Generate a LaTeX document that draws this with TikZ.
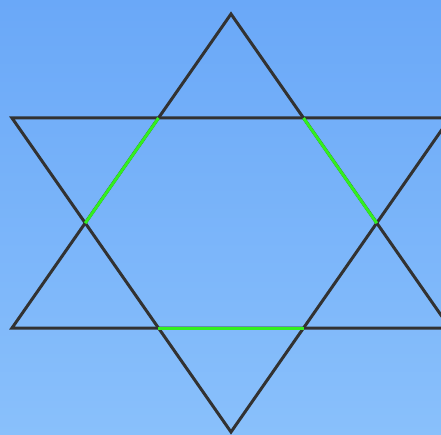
\documentclass[tikz,border=0pt]{standalone}
\usetikzlibrary{calc}
\definecolor{bgtop}{RGB}{106,168,248}
\definecolor{bgbot}{RGB}{137,192,251}
\definecolor{edge}{RGB}{50,50,50}
\definecolor{hexgreen}{RGB}{50,240,30}
\tikzset{
  edgeline/.style={draw=edge, line width=3pt, line join=miter},
  greenline/.style={draw=hexgreen, line width=3pt, line cap=butt}
}
\begin{document}
\begin{tikzpicture}[x=1pt,y=-1pt]
  \useasboundingbox (0,0) rectangle (441,435);
  \shade[top color=bgtop, bottom color=bgbot] (0,0) rectangle (441,435);
  \clip (0,0) rectangle (441,435);
  % up triangle
  \coordinate (A) at (231,14);
  \coordinate (B) at (12,328);
  \coordinate (C) at (450,328);
  % down triangle
  \coordinate (D) at (12,118);
  \coordinate (E) at (450,118);
  \coordinate (F) at (231,432);
  % inner hexagon vertices
  \coordinate (H1) at (158.5,118);
  \coordinate (H2) at (303.5,118);
  \coordinate (H3) at (376.8,223.2);
  \coordinate (H4) at (303.6,328);
  \coordinate (H5) at (158.4,328);
  \coordinate (H6) at (85.2,223.2);
  \draw[edgeline] (A) -- (B) -- (C) -- cycle;
  \draw[edgeline] (D) -- (E) -- (F) -- cycle;
  \draw[greenline] (H1) -- (H6);
  \draw[greenline] (H2) -- (H3);
  \draw[greenline] (H5) -- (H4);
\end{tikzpicture}
\end{document}
